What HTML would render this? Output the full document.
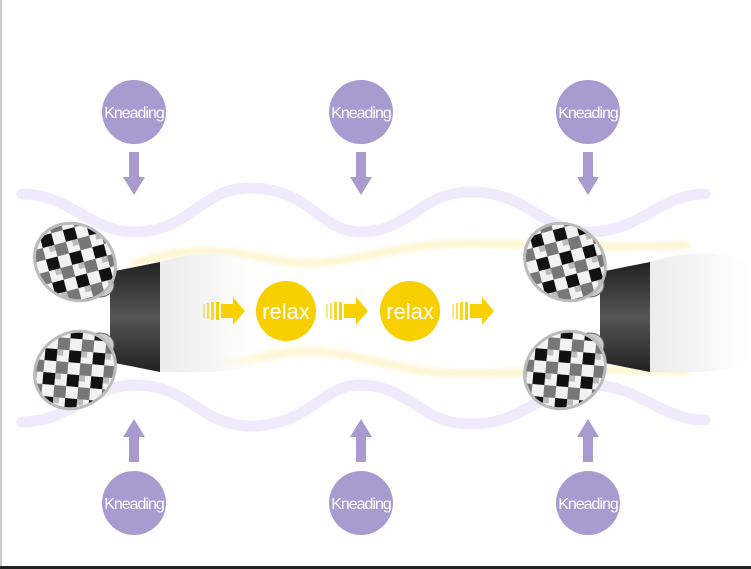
<!DOCTYPE html>
<html><head><meta charset="utf-8"><style>
html,body{margin:0;padding:0;background:#fff}
svg{display:block}
text{font-family:"Liberation Sans",sans-serif}
</style></head><body>
<svg width="751" height="569" viewBox="0 0 751 569" xmlns="http://www.w3.org/2000/svg">
<defs>
<linearGradient id="body" x1="0" x2="1">
<stop offset="0" stop-color="#ececec"/><stop offset=".5" stop-color="#f6f6f6"/><stop offset="1" stop-color="#fff" stop-opacity="0"/>
</linearGradient>
<linearGradient id="band" x1="0" x2="0" y1="0" y2="1">
<stop offset="0" stop-color="#222"/><stop offset=".5" stop-color="#555"/><stop offset="1" stop-color="#222"/>
</linearGradient>
<pattern id="chk" width="24" height="24" patternUnits="userSpaceOnUse" patternTransform="rotate(40)">
<rect width="24" height="24" fill="#f2f2f2"/><rect width="12" height="12" fill="#111"/><rect x="12" y="12" width="12" height="12" fill="#777"/><rect x="12" y="0" width="6" height="6" fill="#bbb"/>
</pattern>
<filter id="blur"><feGaussianBlur stdDeviation="3"/></filter>
<g id="roller">
<path d="M110,272 L160,262 L160,372 L110,362 Z" fill="url(#band)"/>
<path d="M160,262 C200,250 230,250 270,265 L270,360 C230,375 200,372 160,372 Z" fill="url(#body)"/>
<ellipse cx="100" cy="285" rx="14" ry="12" fill="#ccc" stroke="#666"/>
<ellipse cx="100" cy="345" rx="14" ry="12" fill="#ccc" stroke="#666"/>
<ellipse cx="75" cy="262" rx="42" ry="37" transform="rotate(35 75 262)" fill="url(#chk)" stroke="#bbb" stroke-width="3"/>
<ellipse cx="75" cy="370" rx="42" ry="37" transform="rotate(-35 75 370)" fill="url(#chk)" stroke="#bbb" stroke-width="3"/>
</g>
<g id="yarr">
<rect x="0" y="-7" width="2" height="14" fill="#f8d000" opacity=".5"/>
<rect x="4" y="-8" width="2" height="16" fill="#f8d000" opacity=".7"/>
<rect x="8" y="-9" width="3" height="18" fill="#f8d000" opacity=".85"/>
<rect x="13" y="-9" width="3" height="18" fill="#f8d000"/>
<path d="M18,-7 H30 V-14 L42,0 L30,14 V7 H18 Z" fill="#f8d000"/>
</g>
<g id="kd">
<circle r="32" fill="#a99ad0"/>
<text y="6" text-anchor="middle" font-size="16" fill="#fff" letter-spacing="-1">Kneading</text>
</g>
</defs>
<rect x="0" y="0" width="2" height="566" fill="#ccc"/>
<rect x="0" y="566" width="751" height="3" fill="#222"/>
<path d="M22,194 C70,194 90,232 135,232 C190,232 200,188 250,188 C310,188 320,232 360,232 C410,232 420,192 470,192 C530,192 540,232 590,232 C640,232 660,194 705,194" fill="none" stroke="#efeafc" stroke-width="11" stroke-linecap="round"/>
<path d="M22,422 C70,422 90,385 135,385 C190,385 200,426 250,426 C310,426 320,385 360,385 C410,385 420,424 470,424 C530,424 540,385 590,385 C640,385 660,420 705,420" fill="none" stroke="#efeafc" stroke-width="11" stroke-linecap="round"/>
<g filter="url(#blur)">
<path d="M130,265 C200,240 240,255 290,262 C330,268 380,250 430,245 C500,240 560,250 690,245" fill="none" stroke="#fdf0b8" stroke-width="5"/>
<path d="M130,355 C200,375 240,360 290,352 C330,346 380,365 430,372 C500,378 560,365 690,372" fill="none" stroke="#fdf0b8" stroke-width="5"/>
</g>
<use href="#roller"/>
<use href="#roller" transform="translate(490,0)"/>
<use href="#yarr" transform="translate(203,311)"/>
<use href="#yarr" transform="translate(326,311)"/>
<use href="#yarr" transform="translate(452,311)"/>
<circle cx="286" cy="311" r="30" fill="#f8d000"/>
<text x="286" y="319" text-anchor="middle" font-size="22" fill="#fff">relax</text>
<circle cx="410" cy="311" r="30" fill="#f8d000"/>
<text x="410" y="319" text-anchor="middle" font-size="22" fill="#fff">relax</text>
<use href="#kd" transform="translate(134,112)"/>
<use href="#kd" transform="translate(361,112)"/>
<use href="#kd" transform="translate(588,112)"/>
<use href="#kd" transform="translate(134,503)"/>
<use href="#kd" transform="translate(361,503)"/>
<use href="#kd" transform="translate(588,503)"/>
<g fill="#a99ad0">
<path id="da" d="M129,152 h10 v25 h6 l-11,18 l-11,-18 h6 z"/>
<use href="#da" transform="translate(227,0)"/><use href="#da" transform="translate(454,0)"/>
<path id="ua" d="M129,462 h10 v-25 h6 l-11,-18 l-11,18 h6 z"/>
<use href="#ua" transform="translate(227,0)"/><use href="#ua" transform="translate(454,0)"/>
</g>
</svg>
</body></html>
